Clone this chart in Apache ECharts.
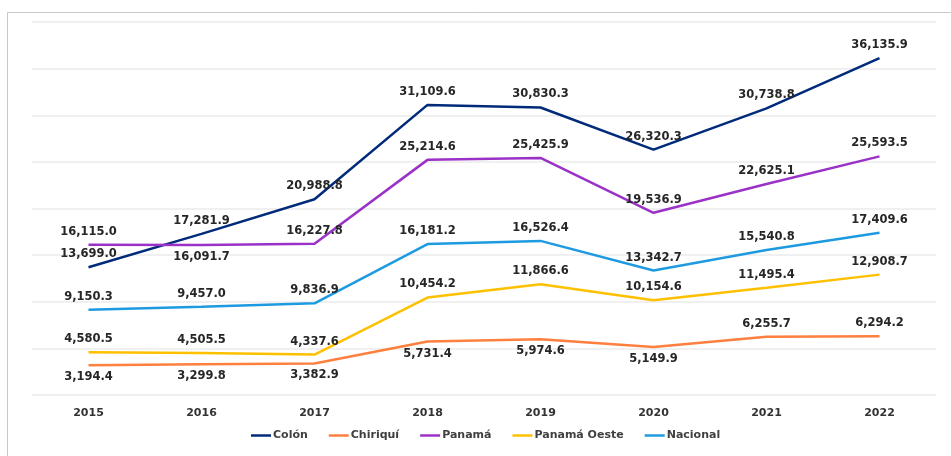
<!DOCTYPE html>
<html>
<head>
<meta charset="utf-8">
<style>
  html, body { margin: 0; padding: 0; background: #ffffff; }
  #chart { width: 951px; height: 456px; }
</style>
<script src="https://cdn.jsdelivr.net/npm/echarts@6/dist/echarts.min.js"></script>
</head>
<body>
<div id="chart"></div>
<script>
// Years on the category axis
const years = ['2015', '2016', '2017', '2018', '2019', '2020', '2021', '2022'];

// Values per region
const colon = [13699.0, 17281.9, 20988.8, 31109.6, 30830.3, 26320.3, 30738.8, 36135.9];
const chiriqui = [3194.4, 3299.8, 3382.9, 5731.4, 5974.6, 5149.9, 6255.7, 6294.2];
const panama = [16115.0, 16091.7, 16227.8, 25214.6, 25425.9, 19536.9, 22625.1, 25593.5];
const panamaOeste = [4580.5, 4505.5, 4337.6, 10454.2, 11866.6, 10154.6, 11495.4, 12908.7];
const nacional = [9150.3, 9457.0, 9836.9, 16181.2, 16526.4, 13342.7, 15540.8, 17409.6];

// Label placement per point: [position, offsetX, offsetY]
const colonLabels = [['top', -21, 8], ['top', 0, 0], ['top', -33, 0], ['top', 0, 0], ['top', 0, 0], ['top', 8, -4], ['top', -10, 2], ['top', 0, 0]];
const chiriquiLabels = [['bottom', 0, -7], ['bottom', -3, 0], ['bottom', 0, 0], ['bottom', -3, -3], ['bottom', 0, 0], ['bottom', 4, 0], ['top', 0, 0], ['top', 0, 0]];
const panamaLabels = [['top', 0, 0], ['bottom', -12, 0], ['top', 0, 0], ['top', 0, 0], ['top', 0, 0], ['top', 0, 0], ['top', 0, 0], ['top', 0, 0]];
const panamaOesteLabels = [['top', 0, 0], ['top', 0, 0], ['top', 0, 2], ['top', 0, 0], ['top', 0, 0], ['top', 14, 4], ['top', 0, 0], ['top', 0, 0]];
const nacionalLabels = [['top', 0, 0], ['top', 0, 0], ['top', 0, 0], ['top', 0, 0], ['top', 0, 0], ['top', 0, 0], ['top', 0, 0], ['top', 0, 0]];

const fmt = v => v.toLocaleString('en-US', { minimumFractionDigits: 1, maximumFractionDigits: 1 });

function buildData(values, labels) {
  return values.map((v, i) => {
    const [pos, dx, dy] = labels[i];
    return {
      value: v,
      label: { position: pos, offset: [dx, dy], distance: pos === 'top' ? 7 : 6 }
    };
  });
}

function makeSeries(name, color, values, labels) {
  return {
    name: name,
    type: 'line',
    data: buildData(values, labels),
    symbol: 'circle',
    symbolSize: 0,
    showSymbol: true,
    lineStyle: { color: color, width: 2.5 },
    itemStyle: { color: color },
    label: {
      show: true,
      formatter: p => fmt(p.value),
      fontFamily: 'DejaVu Sans',
      fontWeight: 'bold',
      fontSize: 11.5,
      color: '#262626'
    },
    labelLayout: { hideOverlap: false },
    emphasis: { disabled: true },
    animation: false
  };
}

const chart = echarts.init(document.getElementById('chart'), null, { renderer: 'canvas' });

chart.setOption({
  backgroundColor: '#ffffff',
  animation: false,
  graphic: [{
    type: 'rect',
    shape: { x: 7.5, y: 12.5, width: 1000, height: 500 },
    style: { fill: 'none', stroke: '#c8c8c8', lineWidth: 1 },
    silent: true
  }],
  grid: { left: 32, right: 15, top: 22, bottom: 61 },
  legend: {
    bottom: 10,
    left: 246,
    icon: 'rect',
    itemWidth: 20,
    itemHeight: 2.5,
    itemGap: 21,
    textStyle: { fontFamily: 'DejaVu Sans', fontWeight: 'bold', fontSize: 11, color: '#404040', padding: [0, 0, 0, -3] },
    data: ['Colón', 'Chiriquí', 'Panamá', 'Panamá Oeste', 'Nacional']
  },
  xAxis: {
    type: 'category',
    data: years,
    boundaryGap: true,
    axisLine: { show: false },
    axisTick: { show: false },
    axisLabel: { fontFamily: 'DejaVu Sans', fontWeight: 'bold', fontSize: 11, color: '#333333', margin: 13 }
  },
  yAxis: {
    type: 'value',
    min: 0,
    max: 40000,
    interval: 5000,
    axisLabel: { show: false },
    axisLine: { show: false },
    axisTick: { show: false },
    splitLine: { lineStyle: { color: '#ebebeb', width: 1.5 } }
  },
  series: [
    makeSeries('Colón', '#002a7a', colon, colonLabels),
    makeSeries('Chiriquí', '#ff7f3f', chiriqui, chiriquiLabels),
    makeSeries('Panamá', '#9a32c8', panama, panamaLabels),
    makeSeries('Panamá Oeste', '#ffc000', panamaOeste, panamaOesteLabels),
    makeSeries('Nacional', '#1e9be0', nacional, nacionalLabels)
  ]
});
</script>
</body>
</html>
